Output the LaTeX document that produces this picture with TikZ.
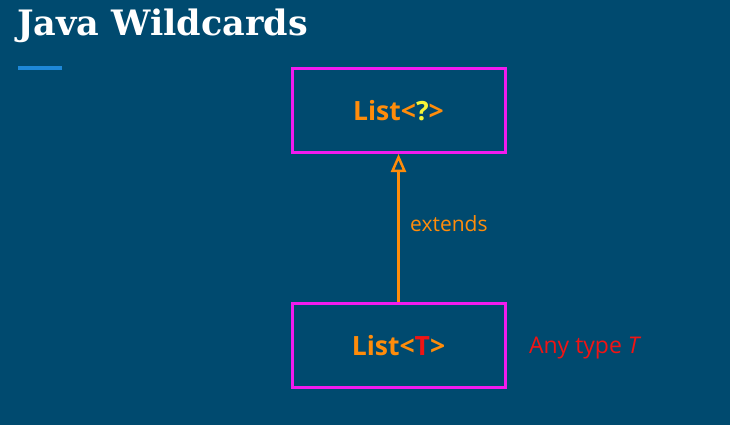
\documentclass[tikz,border=0pt]{standalone}
\usepackage{xcolor}
\usepackage{fontspec}
\setmainfont{Open Sans}
\newfontfamily\slabfont{DejaVu Serif}
\usetikzlibrary{arrows.meta,positioning}

\definecolor{slidebg}{HTML}{004A6F}
\definecolor{rulecol}{HTML}{1E88D8}
\definecolor{boxline}{HTML}{F21BEE}
\definecolor{typeorange}{HTML}{FF8C0A}
\definecolor{wildyellow}{HTML}{F5F538}
\definecolor{typered}{HTML}{F01414}

\tikzset{
    classbox/.style={draw=boxline, line width=3pt, minimum width=213pt, minimum height=84pt,
        text=typeorange, font=\bfseries\fontsize{26.5}{30}\selectfont},
    extendsline/.style={draw=typeorange, line width=2.8pt, -{Triangle[open, width=15pt, length=18pt, line width=2.5pt]}}
}

\begin{document}
\begin{tikzpicture}[x=1pt,y=-1pt]
        \useasboundingbox (0,0) rectangle (730,425);
        \fill[slidebg] (0,0) rectangle (730,425);

        % Title text
        \node[anchor=base west, inner sep=0pt, text=white, font=\slabfont\bfseries\fontsize{35}{40}\selectfont] (title) at (17,36) {Java Wildcards};
        \draw[rulecol, line width=4pt] (18,68) -- (62,68);

        % Boxes
        \node[classbox] (wild) at (398.5,110.5) {List\textless{\color{wildyellow}?}\textgreater};
        \node[classbox] (base) at (398.5,345.5) {List\textless{\color{typered}T}\textgreater};

        % Relation
        \draw[extendsline] (base) -- (wild)
            node[midway, right=7pt, yshift=4pt, text=typeorange, font=\fontsize{21}{24}\selectfont] (ext) {extends};
        \node[right=19pt of base, yshift=-3pt, text=typered, font=\fontsize{23}{26}\selectfont] (anytype) {Any type \textit{T}};
    \end{tikzpicture}
\end{document}
